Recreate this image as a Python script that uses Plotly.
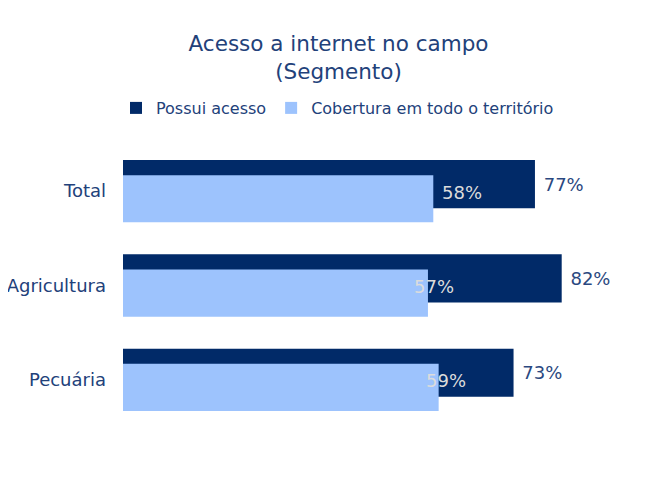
import plotly.graph_objects as go

segmentos = ["Total", "Agricultura", "Pecuária"]
possui_acesso = [77, 82, 73]
cobertura = [58, 57, 59]
# deslocamento horizontal (px) dos rotulos de cobertura, como no original
cob_label_shift = [29, 6, 7]

navy = "#012a68"
light = "#9dc3fd"
txt = "#22417a"
font_family = "DejaVu Sans, Verdana, sans-serif"

fig = go.Figure()
fig.add_trace(go.Bar(y=segmentos, x=possui_acesso,
                     orientation='h',
                     name='Possui acesso',
                     marker=dict(color=navy, line=dict(width=0)),
                     offset=-0.33, width=0.51,
                     text=[f"\u00a0{v}%" for v in possui_acesso],
                     textposition='outside',
                     textfont=dict(size=18, color="#2a4880"),
                     cliponaxis=False))
fig.add_trace(go.Bar(y=segmentos, x=cobertura,
                     orientation='h',
                     name='Cobertura em todo o território',
                     marker=dict(color=light, line=dict(width=0)),
                     offset=-0.17, width=0.5))

for seg, val, sh in zip(segmentos, cobertura, cob_label_shift):
    fig.add_annotation(x=val, y=seg, text=f"{val}%", showarrow=False,
                       xanchor='center', xshift=sh, yshift=-1,
                       font=dict(size=18, color="#dcdcdc", family=font_family))

# la pagina tiene 8px de margen, la figura se dibuja desplazada
fig.update_layout(
    title=dict(text="Acesso a internet no campo<br>(Segmento)",
               x=0.5, xanchor='center', y=1 - 43 / 471, yanchor='top',
               font=dict(size=21.5, color=txt)),
    barmode='overlay',
    width=661, height=471,
    margin=dict(l=115, r=11, t=136, b=52, autoexpand=False),
    paper_bgcolor='white',
    plot_bgcolor='white',
    font=dict(family=font_family, color=txt),
    showlegend=True,
    legend=dict(orientation='h', xref='container', yref='container',
                x=108 / 661, xanchor='left', y=1 - 83 / 471, yanchor='top',
                itemwidth=30, font=dict(size=16, color=txt),
                traceorder='normal'),
    xaxis=dict(range=[0, 100], visible=False, fixedrange=True,
               automargin=False),
    yaxis=dict(autorange='reversed', showgrid=False, zeroline=False,
               showline=False, ticks='', ticklabelstandoff=16,
               automargin=False,
               tickfont=dict(size=18, color=txt)),
)

fig.write_html("out.html")
